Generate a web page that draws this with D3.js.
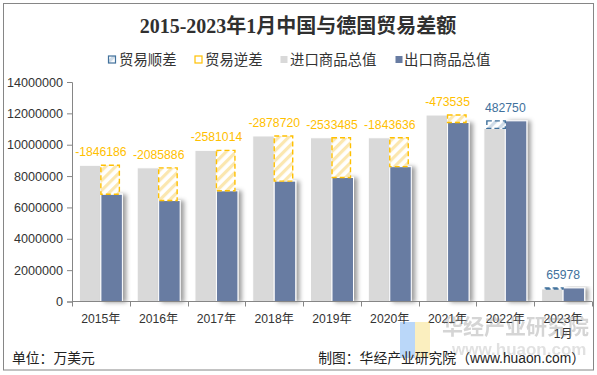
<!DOCTYPE html>
<html>
<head>
<meta charset="utf-8">
<script src="https://cdn.jsdelivr.net/npm/d3@7"></script>
<style>
  html, body { margin: 0; padding: 0; background: #fff; }
  svg { display: block; }
  text { font-family: "Liberation Sans", Arial, "Noto Sans CJK SC", sans-serif; }
  .cjk { font-family: "Liberation Sans", "Noto Sans CJK SC", sans-serif; }
</style>
</head>
<body>
<svg id="chart" width="597" height="375"></svg>
<script>
// ---------------- data ----------------
const categories = ["2015年", "2016年", "2017年", "2018年", "2019年", "2020年", "2021年", "2022年", "2023年1月"];
const importValues = [8686186, 8525886, 9641014, 10558720, 10443485, 10443636, 11893535, 11040000, 800000];
const exportValues = [6840000, 6440000, 7060000, 7680000, 7910000, 8600000, 11420000, 11522750, 865978];
const balanceValues = [-1846186, -2085886, -2581014, -2878720, -2533485, -1843636, -473535, 482750, 65978];
const yTicks = [0, 2000000, 4000000, 6000000, 8000000, 10000000, 12000000, 14000000];
const legendLabels = ["贸易顺差", "贸易逆差", "进口商品总值", "出口商品总值"];

// ---------------- styles ----------------
const colImport = "#d9d9d9";
const colExport = "#687ca2";
const colDeficit = "#ffc000";
const colSurplus = "#41719c";

const svg = d3.select("#chart");
const defs = svg.append("defs");

// hatch patterns
function hatch(id, color) {
  const p = defs.append("pattern").attr("id", id)
    .attr("patternUnits", "userSpaceOnUse").attr("width", 7).attr("height", 7)
    .attr("patternTransform", "rotate(45)");
  p.append("rect").attr("width", 7).attr("height", 7).attr("fill", "#fff");
  p.append("rect").attr("width", 3.2).attr("height", 7).attr("fill", color);
}
hatch("hatchDef", "#fbe7b0");
hatch("hatchSur", "#cfdce8");

const f = defs.append("filter").attr("id", "shadow")
  .attr("x", "-20%").attr("y", "-10%").attr("width", "160%").attr("height", "130%");
f.append("feDropShadow").attr("dx", 3.5).attr("dy", 0.5).attr("stdDeviation", 2.2)
  .attr("flood-color", "#000").attr("flood-opacity", 0.38);

// outer border
svg.append("rect").attr("x", 3.5).attr("y", 3.5).attr("width", 590).attr("height", 366.5)
  .attr("fill", "#fff").attr("stroke", "#868686").attr("stroke-width", 1);

// title
svg.append("text").attr("x", 298).attr("y", 33).attr("text-anchor", "middle")
  .style("font-family", "'Liberation Serif', 'Noto Sans CJK SC', serif")
  .style("font-size", "20px").style("font-weight", "bold").attr("fill", "#303030")
  .text("2015-2023年1月中国与德国贸易差额");

// ---------------- scales ----------------
const margin = { left: 72, right: 592, top: 82, bottom: 301.5 };
const x0 = d3.scaleBand().domain(categories).range([margin.left, margin.right]).padding(0);
const x1 = d3.scaleBand().domain(["import", "export"]).range([0, x0.bandwidth()])
  .paddingInner(0).paddingOuter(0.344);
const y = d3.scaleLinear().domain([0, 14000000]).range([margin.bottom, margin.top]);
const hatchW = x1.bandwidth() * 0.86;

// ---------------- axes ----------------
const yAxis = svg.append("g").attr("transform", `translate(${margin.left},0)`)
  .call(d3.axisLeft(y).tickValues(yTicks).tickSize(5).tickPadding(4).tickFormat(d3.format("d")));
yAxis.select(".domain").attr("stroke", "#868686");
yAxis.selectAll(".tick line").attr("stroke", "#868686");
yAxis.selectAll(".tick text").attr("fill", "#333").style("font-size", "12.6px")
  .style("font-family", "'Liberation Sans', Arial, sans-serif");

const g = svg.append("g");

// bars
const groups = g.selectAll(".grp").data(categories).enter().append("g")
  .attr("transform", d => `translate(${x0(d)},0)`);

groups.append("rect")
  .attr("x", x1("import")).attr("width", x1.bandwidth())
  .attr("y", (d, i) => y(importValues[i]))
  .attr("height", (d, i) => y(0) - y(importValues[i]))
  .attr("fill", colImport).attr("stroke", "#fff").attr("stroke-width", 1);

groups.append("rect")
  .attr("x", x1("export")).attr("width", x1.bandwidth())
  .attr("y", (d, i) => y(exportValues[i]))
  .attr("height", (d, i) => y(0) - y(exportValues[i]))
  .attr("fill", colExport).attr("stroke", "#fff").attr("stroke-width", 1)
  .attr("filter", "url(#shadow)");

// balance hatch bars
groups.append("rect")
  .attr("x", (d, i) => balanceValues[i] < 0 ? x0.bandwidth() / 2 : x0.bandwidth() / 2 - hatchW)
  .attr("width", hatchW)
  .attr("y", (d, i) => y(Math.max(importValues[i], exportValues[i])))
  .attr("height", (d, i) => Math.max(1, Math.abs(y(importValues[i]) - y(exportValues[i]))))
  .attr("fill", (d, i) => balanceValues[i] < 0 ? "url(#hatchDef)" : "url(#hatchSur)")
  .attr("stroke", (d, i) => balanceValues[i] < 0 ? colDeficit : colSurplus)
  .attr("stroke-width", 1.4).attr("stroke-dasharray", "5,3");

// labels
groups.append("text")
  .attr("x", x0.bandwidth() / 2)
  .attr("y", (d, i) => y(Math.max(importValues[i], exportValues[i])) - 9)
  .attr("text-anchor", "middle")
  .style("font-size", "12.2px")
  .attr("fill", (d, i) => balanceValues[i] < 0 ? colDeficit : colSurplus)
  .text((d, i) => balanceValues[i]);

// x axis
const xAxisG = svg.append("g");
xAxisG.append("line").attr("x1", margin.left).attr("x2", margin.right)
  .attr("y1", margin.bottom).attr("y2", margin.bottom).attr("stroke", "#868686");
const bounds = categories.map(c => x0(c)).concat([margin.right]);
xAxisG.selectAll(".xt").data(bounds).enter().append("line")
  .attr("x1", d => Math.round(d) + 0.5).attr("x2", d => Math.round(d) + 0.5)
  .attr("y1", margin.bottom).attr("y2", margin.bottom + 5).attr("stroke", "#868686");

const xl = xAxisG.selectAll(".xl").data(categories).enter().append("text")
  .attr("class", "cjk")
  .attr("x", d => x0(d) + x0.bandwidth() / 2).attr("y", 322.5)
  .attr("text-anchor", "middle").style("font-size", "12.2px").attr("fill", "#333");
xl.each(function (d) {
  const parts = d.length > 5 ? [d.slice(0, d.indexOf("年") + 1), d.slice(d.indexOf("年") + 1)] : [d];
  const t = d3.select(this);
  parts.forEach((p, k) => {
    t.append("tspan").attr("x", x0(d) + x0.bandwidth() / 2).attr("dy", k === 0 ? 0 : 15.5).text(p);
  });
});

// legend
const legendX = [108.5, 195, 280.5, 395.5];
const textX = [119, 205, 290, 404];
legendLabels.forEach((lab, i) => {
  const r = svg.append("rect").attr("x", legendX[i]).attr("y", 56).attr("width", 7).attr("height", 7);
  if (i === 0) r.attr("fill", "url(#hatchSur)").attr("stroke", colSurplus).attr("stroke-width", 1.2);
  else if (i === 1) r.attr("fill", "#fff").attr("stroke", colDeficit).attr("stroke-width", 1.2);
  else if (i === 2) r.attr("fill", colImport);
  else r.attr("fill", colExport);
  svg.append("text").attr("class", "cjk").attr("x", textX[i]).attr("y", 64.5)
    .style("font-size", "14.4px").attr("fill", "#333").text(lab);
});

// watermark
const wm = svg.append("g").attr("opacity", 0.35);
wm.append("rect").attr("x", 400).attr("y", 322).attr("width", 15).attr("height", 36).attr("fill", "#3d8ef0");
wm.append("rect").attr("x", 415).attr("y", 322).attr("width", 15).attr("height", 36).attr("fill", "#f5d24a");
wm.append("text").attr("class", "cjk").attr("x", 442).attr("y", 334).style("font-size", "21px")
  .style("font-weight", "bold").attr("fill", "#888").text("华经产业研究院");
wm.append("text").attr("x", 452).attr("y", 355).style("font-size", "17px")
  .style("font-weight", "bold").attr("fill", "#aaa").text("www.huaon.com");

// footer
svg.append("text").attr("class", "cjk").attr("x", 12).attr("y", 363).style("font-size", "13.8px")
  .attr("fill", "#222").text("单位：万美元");
svg.append("text").attr("class", "cjk").attr("x", 585).attr("y", 363).attr("text-anchor", "end")
  .style("font-size", "13.8px").attr("fill", "#222").text("制图：华经产业研究院（www.huaon.com）");
</script>
</body>
</html>
